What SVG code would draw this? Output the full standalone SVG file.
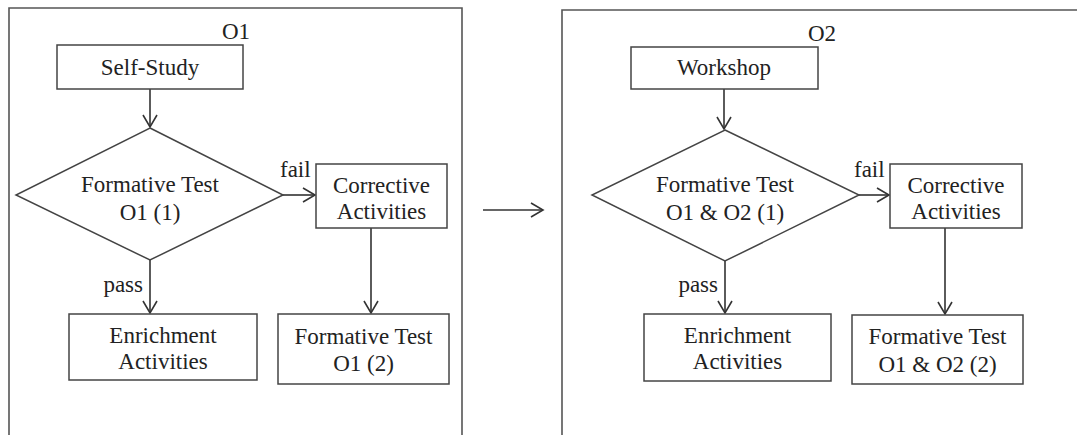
<svg xmlns="http://www.w3.org/2000/svg" width="1077" height="435" viewBox="0 0 1077 435">
<defs>
<style>
.frame{fill:none;stroke:#555;stroke-width:1.6}
.box{fill:#fff;stroke:#444;stroke-width:1.5}
.conn{fill:none;stroke:#333;stroke-width:1.6}
.t{font-family:'Liberation Serif','Times New Roman',Tinos,'DejaVu Serif',serif;font-size:23px;fill:#222}
.c{text-anchor:middle}
</style>
<marker id="arr" markerUnits="userSpaceOnUse" markerWidth="16" markerHeight="18" refX="13" refY="8" orient="auto">
<path d="M1,1 L13,8 L1,15" fill="none" stroke="#333" stroke-width="1.6"/>
</marker>
</defs>
<rect width="1077" height="435" fill="#fff"/>
<g font-family="Liberation Serif, Times New Roman, serif" font-size="23">
<g id="panel-o1">
<path class="frame" d="M9,436 V8 H462 V436"/>
<text class="t" x="222" y="39">O1</text>
</g>
<g id="panel-o2">
<path class="frame" d="M562,436 V10 H1078"/>
<text class="t" x="808" y="41">O2</text>
</g>
<g id="connectors">
<line class="conn" x1="150" y1="89" x2="150" y2="127" marker-end="url(#arr)"/>
<line class="conn" x1="283" y1="195" x2="315" y2="195" marker-end="url(#arr)"/>
<line class="conn" x1="150" y1="260" x2="150" y2="313" marker-end="url(#arr)"/>
<line class="conn" x1="371" y1="228" x2="371" y2="313" marker-end="url(#arr)"/>
<line class="conn" x1="483" y1="210" x2="543" y2="210" marker-end="url(#arr)"/>
<line class="conn" x1="724" y1="89" x2="724" y2="129" marker-end="url(#arr)"/>
<line class="conn" x1="859" y1="195" x2="889" y2="195" marker-end="url(#arr)"/>
<line class="conn" x1="725" y1="261" x2="725" y2="313" marker-end="url(#arr)"/>
<line class="conn" x1="945" y1="228" x2="945" y2="314" marker-end="url(#arr)"/>
<text class="t" x="280" y="177">fail</text>
<text class="t" x="143" y="292" text-anchor="end">pass</text>
<text class="t" x="854" y="177">fail</text>
<text class="t" x="718" y="292" text-anchor="end">pass</text>
</g>
<g id="self-study">
<rect class="box" x="57" y="45" width="186" height="44"/>
<text class="t c" x="150" y="75">Self-Study</text>
</g>
<g id="formative-test-1">
<polygon class="box" points="150,128 283,195 150,260 16,195"/>
<text class="t c" x="150" y="192">Formative Test</text>
<text class="t c" x="150" y="220">O1 (1)</text>
</g>
<g id="corrective-1">
<rect class="box" x="316" y="164" width="131" height="64"/>
<text class="t c" x="381.5" y="193">Corrective</text>
<text class="t c" x="381.5" y="219">Activities</text>
</g>
<g id="enrichment-1">
<rect class="box" x="69" y="314" width="188" height="66"/>
<text class="t c" x="163" y="343">Enrichment</text>
<text class="t c" x="163" y="369">Activities</text>
</g>
<g id="formative-test-1b">
<rect class="box" x="278" y="314" width="171" height="70"/>
<text class="t c" x="363.5" y="344">Formative Test</text>
<text class="t c" x="363.5" y="371">O1 (2)</text>
</g>
<g id="workshop">
<rect class="box" x="631" y="47" width="187" height="42"/>
<text class="t c" x="724" y="75">Workshop</text>
</g>
<g id="formative-test-2">
<polygon class="box" points="725,130 859,195 725,261 592,195"/>
<text class="t c" x="725" y="192">Formative Test</text>
<text class="t c" x="725" y="220">O1 &amp; O2 (1)</text>
</g>
<g id="corrective-2">
<rect class="box" x="890" y="164" width="132" height="64"/>
<text class="t c" x="956" y="193">Corrective</text>
<text class="t c" x="956" y="219">Activities</text>
</g>
<g id="enrichment-2">
<rect class="box" x="644" y="314" width="187" height="67"/>
<text class="t c" x="737.5" y="343">Enrichment</text>
<text class="t c" x="737.5" y="369">Activities</text>
</g>
<g id="formative-test-2b">
<rect class="box" x="852" y="315" width="171" height="69"/>
<text class="t c" x="937.5" y="344">Formative Test</text>
<text class="t c" x="937.5" y="372">O1 &amp; O2 (2)</text>
</g>
</g>
</svg>
